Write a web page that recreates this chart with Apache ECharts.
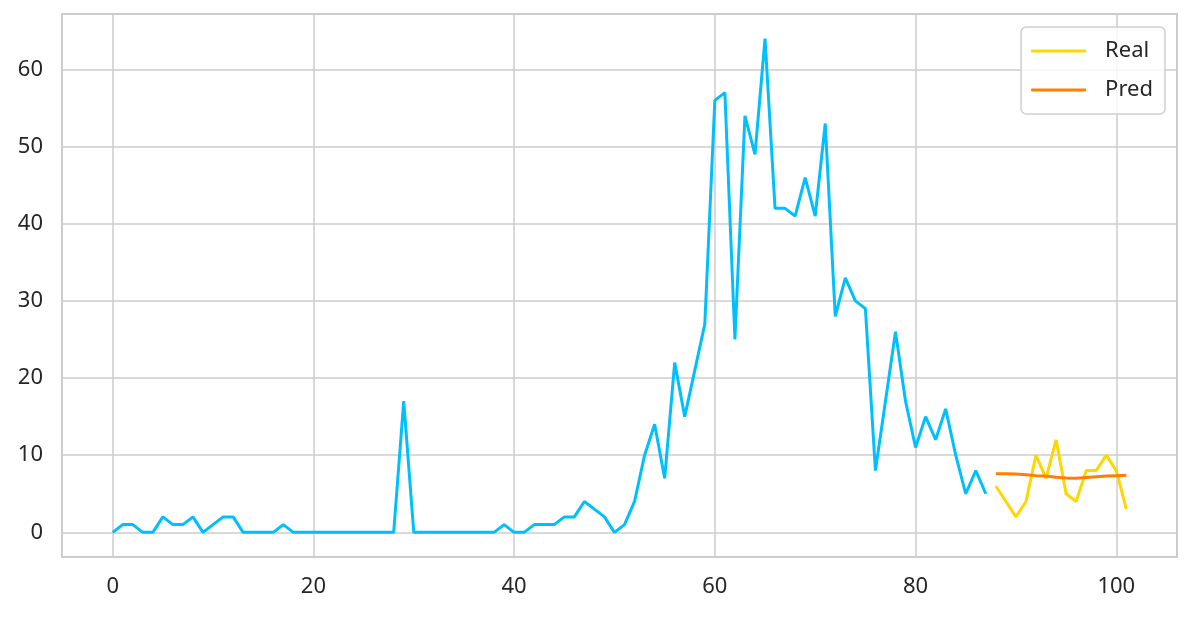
<!DOCTYPE html>
<html>
<head>
<meta charset="utf-8">
<script src="https://cdn.jsdelivr.net/npm/echarts@6/dist/echarts.min.js"></script>
<style>
  html, body { margin: 0; padding: 0; background: #fff; }
  #chart { width: 1192px; height: 617px; }
</style>
</head>
<body>
<div id="chart"></div>
<script>
// history (index 0..87)
const history = [0, 1, 1, 0, 0, 2, 1, 1, 2, 0, 1, 2, 2, 0, 0, 0, 0, 1, 0, 0,
  0, 0, 0, 0, 0, 0, 0, 0, 0, 17, 0, 0, 0, 0, 0, 0, 0, 0, 0, 1,
  0, 0, 1, 1, 1, 2, 2, 4, 3, 2, 0, 1, 4, 10, 14, 7, 22, 15, 21, 27,
  56, 57, 25, 54, 49, 64, 42, 42, 41, 46, 41, 53, 28, 33, 30, 29, 8, 17, 26, 17,
  11, 15, 12, 16, 10, 5, 8, 5]
// test part starts at 88
const testStart = 88
const real = [6, 4, 2, 4, 10, 7, 12, 5, 4, 8, 8, 10, 8, 3]
const pred = [7.58, 7.6, 7.55, 7.45, 7.35, 7.3, 7.15, 7.05, 7.0, 7.1, 7.2, 7.3, 7.35, 7.4]
const xTicks = [0, 20, 40, 60, 80, 100]
const yTicks = [0, 10, 20, 30, 40, 50, 60]

const toPoints = (arr, start) => arr.map((v, i) => [start + i, v])

const chart = echarts.init(document.getElementById('chart'))
const labelFont = {
  color: '#262626',
  fontSize: 22,
  fontFamily: 'Noto Sans'
}

chart.setOption({
  animation: false,
  backgroundColor: '#ffffff',
  grid: {
    left: 62,
    top: 14,
    right: 15,
    bottom: 60,
    show: true,
    borderColor: '#cccccc',
    borderWidth: 2
  },
  legend: {
    data: ['Real', 'Pred'],
    right: 27,
    top: 27,
    orient: 'vertical',
    selectedMode: false,
    icon: 'roundRect',
    itemWidth: 55,
    itemHeight: 3,
    itemGap: 17,
    padding: [13, 12, 13, 10],
    borderColor: '#d0d0d0',
    borderWidth: 1.5,
    borderRadius: 5,
    backgroundColor: 'rgba(255,255,255,0.8)',
    textStyle: Object.assign({}, labelFont, { padding: [0, 0, 0, 14] })
  },
  xAxis: {
    type: 'value',
    min: -5.05,
    max: 106.05,
    axisLine: { show: false },
    axisTick: { show: false, customValues: xTicks },
    axisLabel: Object.assign({ customValues: xTicks, margin: 19 }, labelFont),
    splitLine: { show: true, lineStyle: { color: '#cccccc', width: 1.5 } }
  },
  yAxis: {
    type: 'value',
    min: -3.2,
    max: 67.2,
    axisLine: { show: false },
    axisTick: { show: false, customValues: yTicks },
    axisLabel: Object.assign({ customValues: yTicks, margin: 19 }, labelFont),
    splitLine: { show: true, lineStyle: { color: '#cccccc', width: 1.5 } }
  },
  series: [
    {
      name: 'History',
      type: 'line',
      data: toPoints(history, 0),
      symbol: 'none',
      lineStyle: { color: '#00bfff', width: 3 },
      itemStyle: { color: '#00bfff' }
    },
    {
      name: 'Real',
      type: 'line',
      data: toPoints(real, testStart),
      symbol: 'none',
      lineStyle: { color: '#ffd700', width: 3 },
      itemStyle: { color: '#ffd700' }
    },
    {
      name: 'Pred',
      type: 'line',
      data: toPoints(pred, testStart),
      symbol: 'none',
      lineStyle: { color: '#ff7f00', width: 3 },
      itemStyle: { color: '#ff7f00' }
    }
  ]
})
</script>
</body>
</html>
